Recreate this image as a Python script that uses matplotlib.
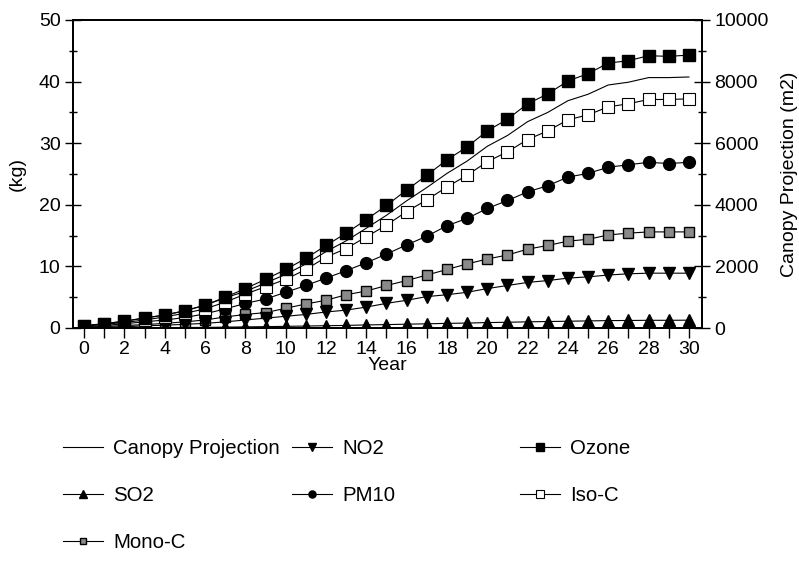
import matplotlib.pyplot as plt
from matplotlib.ticker import MultipleLocator

plt.rcParams['font.family'] = ['Liberation Sans', 'DejaVu Sans']

# values
years = list(range(31))
ozone = [0.4, 0.7, 1.1, 1.6, 2.1, 2.8, 3.7, 5.0, 6.4, 7.9, 9.5, 11.3, 13.4, 15.4, 17.6, 19.9,
         22.4, 24.8, 27.3, 29.4, 32.0, 33.9, 36.4, 38.0, 40.1, 41.3, 43.0, 43.4, 44.2, 44.1, 44.3]
iso_c = [0.3, 0.6, 0.9, 1.3, 1.8, 2.4, 3.1, 4.2, 5.5, 6.7, 7.9, 9.5, 11.5, 12.9, 14.8, 16.7,
         18.9, 20.8, 22.9, 24.8, 27.0, 28.6, 30.6, 32.0, 33.8, 34.6, 35.9, 36.4, 37.1, 37.1, 37.2]
pm10 = [0.2, 0.4, 0.7, 1.0, 1.3, 1.7, 2.3, 3.1, 4.0, 4.7, 5.8, 6.9, 8.1, 9.3, 10.6, 12.0,
        13.5, 14.9, 16.6, 17.8, 19.4, 20.7, 22.1, 23.1, 24.5, 25.1, 26.1, 26.5, 26.9, 26.7, 26.9]
mono_c = [0.1, 0.25, 0.4, 0.55, 0.75, 1.0, 1.3, 1.8, 2.2, 2.5, 3.2, 3.9, 4.5, 5.4, 6.0, 6.9,
          7.7, 8.6, 9.5, 10.4, 11.2, 11.85, 12.8, 13.4, 14.1, 14.4, 15.1, 15.4, 15.6, 15.6, 15.6]
no2 = [0.1, 0.15, 0.2, 0.35, 0.45, 0.6, 0.75, 1.0, 1.3, 1.6, 1.9, 2.2, 2.6, 2.9, 3.4, 4.0,
       4.5, 5.1, 5.4, 5.8, 6.4, 6.9, 7.4, 7.7, 8.1, 8.3, 8.6, 8.8, 8.9, 8.9, 8.9]
so2 = [0.0, 0.02, 0.03, 0.05, 0.06, 0.08, 0.1, 0.14, 0.18, 0.22, 0.27, 0.32, 0.37, 0.42, 0.5, 0.55,
       0.62, 0.68, 0.75, 0.8, 0.88, 0.93, 1.0, 1.05, 1.1, 1.15, 1.2, 1.22, 1.25, 1.25, 1.27]
canopy = [60, 140, 220, 330, 420, 560, 740, 980, 1190, 1460, 1740, 2080, 2480, 2830, 3240, 3660,
          4130, 4560, 5020, 5420, 5900, 6250, 6700, 7000, 7380, 7590, 7890, 7980, 8130, 8130, 8150]

fig = plt.figure(figsize=(7.99, 5.79), dpi=100, facecolor='white')
ax = fig.add_axes([73/799, 1-328/579, 629/799, 308/579])
ax2 = ax.twinx()

lw = 0.8
h_can, = ax2.plot(years, canopy, color='black', lw=lw, label='Canopy Projection')
h_so2, = ax.plot(years, so2, color='black', lw=lw, marker='^', ms=9, mfc='black', mec='black', label='SO2')
h_mono, = ax.plot(years, mono_c, color='black', lw=lw, marker='s', ms=6.5, mfc='#8a8a8a', mec='black', label='Mono-C')
h_no2, = ax.plot(years, no2, color='black', lw=lw, marker='v', ms=9, mfc='black', mec='black', label='NO2')
h_pm, = ax.plot(years, pm10, color='black', lw=lw, marker='o', ms=8.5, mfc='black', mec='black', label='PM10')
h_iso, = ax.plot(years, iso_c, color='black', lw=lw, marker='s', ms=8.5, mfc='white', mec='black', mew=0.8, label='Iso-C')
h_oz, = ax.plot(years, ozone, color='black', lw=lw, marker='s', ms=8.5, mfc='black', mec='black', label='Ozone')

ax.set_xlim(-0.55, 30.65)
ax.set_ylim(0, 50)
ax2.set_ylim(0, 10000)

ax.xaxis.set_major_locator(MultipleLocator(2))
ax.xaxis.set_minor_locator(MultipleLocator(1))
ax.yaxis.set_major_locator(MultipleLocator(10))
ax.yaxis.set_minor_locator(MultipleLocator(5))
ax2.yaxis.set_major_locator(MultipleLocator(2000))
ax2.yaxis.set_minor_locator(MultipleLocator(1000))

ax.tick_params(axis='x', which='both', direction='out', length=7, width=1, labelsize=14, pad=2)
ax.tick_params(axis='y', which='major', direction='inout', length=12, width=1, labelsize=14, pad=3)
ax.tick_params(axis='y', which='minor', direction='inout', length=6, width=1)
ax2.tick_params(axis='y', which='major', direction='inout', length=12, width=1, labelsize=14, pad=3)
ax2.tick_params(axis='y', which='minor', direction='inout', length=6, width=1)

for a in (ax, ax2):
    for s in a.spines.values():
        s.set_linewidth(1.3)

ax.set_xlabel('Year', fontsize=14, labelpad=0)
ax.set_ylabel('(kg)', fontsize=14, labelpad=9)
ax2.set_ylabel('Canopy Projection (m2)', fontsize=14, labelpad=9)

# legend laid out as three separate columns, like the original grid
cols = [([h_can, h_so2, h_mono], 63), ([h_no2, h_pm], 292), ([h_oz, h_iso], 520)]
for handles, xpx in cols:
    fig.legend(handles=handles, loc='upper left', bbox_to_anchor=(xpx/799, 1-439/579),
               frameon=False, fontsize=14.7, markerscale=0.6, handlelength=1.95,
               handletextpad=0.5, labelspacing=1.38, borderpad=0, borderaxespad=0)

fig.savefig('out.png', dpi=100)
